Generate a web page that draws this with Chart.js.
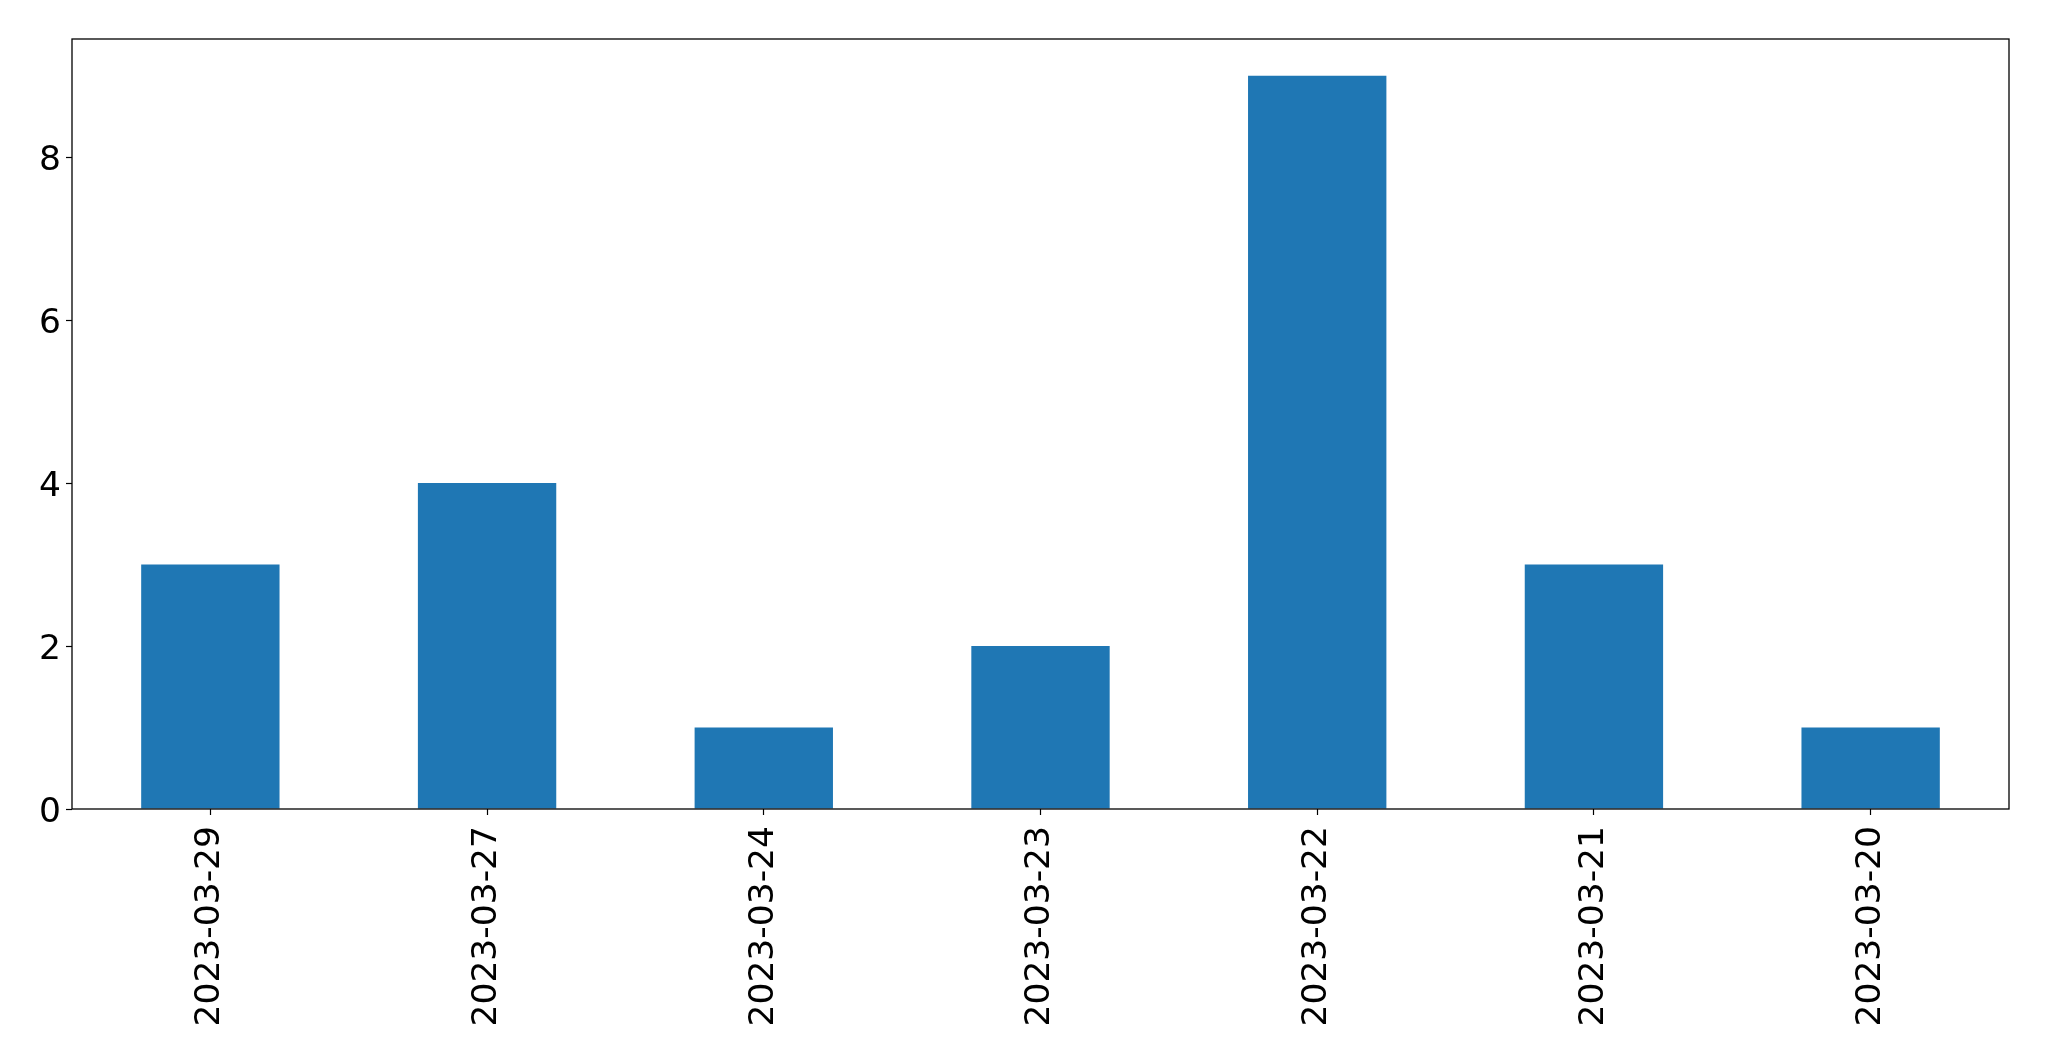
<!DOCTYPE html>
<html>
<head>
<meta charset="utf-8">
<script src="https://cdn.jsdelivr.net/npm/chart.js@4"></script>
<style>
    html, body { margin: 0; padding: 0; background: #fff; }
    #wrap { width: 2049px; height: 1061px; }
</style>
</head>
<body>
<div id="wrap"><canvas id="chart" width="2049" height="1061"></canvas></div>
<script>
// Daily counts, in the order shown
const DATES = ['2023-03-29', '2023-03-27', '2023-03-24', '2023-03-23', '2023-03-22', '2023-03-21', '2023-03-20'];
const COUNTS = [3, 4, 1, 2, 9, 3, 1];
const Y_TICKS = [0, 2, 4, 6, 8];

// matplotlib-style box around the plot area
const frame = {
    id: 'frame',
    afterDraw(chart) {
        const { ctx, chartArea: a } = chart;
        ctx.save();
        ctx.strokeStyle = '#000';
        ctx.lineWidth = 1.3;
        ctx.strokeRect(a.left, a.top, a.right - a.left, a.bottom - a.top);
        ctx.restore();
    },
};

const FONT = { family: '"DejaVu Sans", sans-serif', size: 34.5 };

new Chart(document.getElementById('chart').getContext('2d'), {
    type: 'bar',
    data: {
        labels: DATES,
        datasets: [{
            data: COUNTS,
            backgroundColor: '#1f77b4',
            borderWidth: 0,
            barPercentage: 0.5,
            categoryPercentage: 1,
        }],
    },
    options: {
        responsive: false,
        animation: false,
        layout: { padding: { top: 39, right: 40, left: 0, bottom: 0 } },
        plugins: { legend: { display: false }, tooltip: { enabled: false } },
        scales: {
            x: {
                grid: { display: true, drawOnChartArea: false, offset: false, tickLength: 6, tickColor: '#000', tickWidth: 1.2 },
                border: { display: false },
                ticks: { color: '#000', font: FONT, minRotation: 90, maxRotation: 90, padding: 11, autoSkip: false },
                afterFit: s => { s.height = 252; },
            },
            y: {
                min: 0,
                max: 9.45,
                grid: { display: true, drawOnChartArea: false, tickLength: 6, tickColor: '#000', tickWidth: 1.2 },
                border: { display: false },
                ticks: { color: '#000', font: FONT, stepSize: 2, padding: 5, labelOffset: 4 },
                afterBuildTicks: s => { s.ticks = Y_TICKS.map(v => ({ value: v })); },
                afterFit: s => { s.width = 72; },
            },
        },
    },
    plugins: [frame],
});
</script>
</body>
</html>
